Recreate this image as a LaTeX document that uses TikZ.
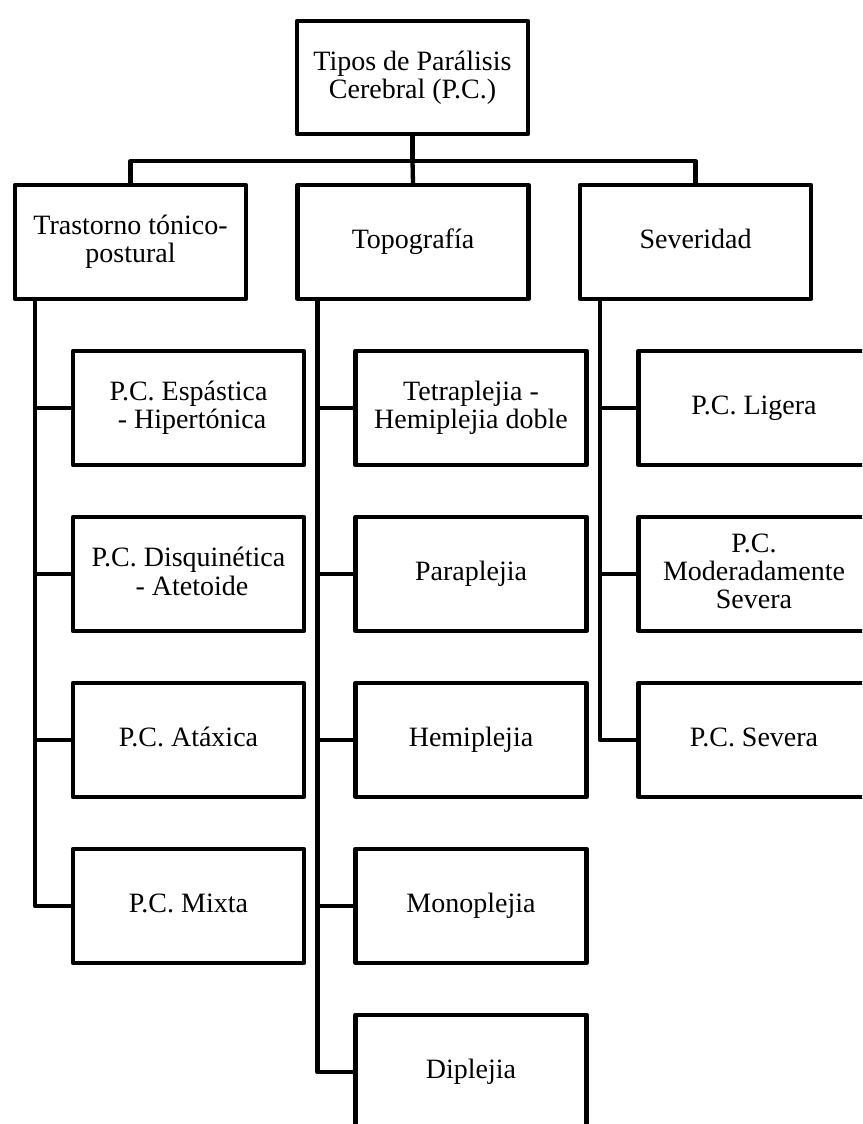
\documentclass[tikz,border=0pt]{standalone}
\usepackage{fontspec}
\setmainfont{Liberation Serif}
\newcommand{\boxstrut}{\rule[-0.2em]{0pt}{0.862em}}
\begin{document}
\begin{tikzpicture}[x=1pt, y=-1pt, box/.style={draw, line width=4.3pt, line join=round, minimum width=231pt, minimum height=114pt, align=center, inner sep=2pt, execute at begin node=\boxstrut, execute at end node=\boxstrut}, link/.style={line width=4.3pt, line join=round}, font=\fontsize{28}{28.4}\selectfont]
\useasboundingbox (0,0) rectangle (862,1124);
\clip (0,0) rectangle (862,1124);
%	\draw[help lines] (0,0) grid (862,1124);
\node[box, minimum height=113pt] (tipos) at (412.5, 77.5) {Tipos de Parálisis\\Cerebral (P.C.)};
\node[box] (tonico) at (130.5, 242) {Trastorno tónico-\\postural};
\node[box] (topografia) at (413, 242) {Topografía};
\node[box] (severidad) at (695.5, 242) {Severidad};
\node[box] (espastica) at (188.5, 408) {P.C. Espástica\\~- Hipertónica};
\node[box] (disquinetica) at (188.5, 574) {P.C. Disquinética\\~- Atetoide};
\node[box] (ataxica) at (188.5, 740) {P.C. Atáxica};
\node[box] (mixta) at (188.5, 906) {P.C. Mixta};
\node[box] (tetraplejia) at (471, 408) {Tetraplejia -\\Hemiplejia doble};
\node[box] (paraplejia) at (471, 574) {Paraplejia};
\node[box] (hemiplejia) at (471, 740) {Hemiplejia};
\node[box] (monoplejia) at (471, 906) {Monoplejia};
\node[box] (diplejia) at (471, 1072) {Diplejia};
\node[box] (ligera) at (754, 408) {P.C. Ligera};
\node[box] (moderada) at (754, 574) {P.C.\\Moderadamente\\Severa};
\node[box] (severa) at (754, 740) {P.C. Severa};
\coordinate (bus) at ([yshift=-25pt]tipos.south);
\draw[link] (tipos.south) -- (bus);
\draw[link] (tonico.north) |- (bus) -| (severidad.north);
\draw[link] (bus) -- (topografia.north);
\draw[link] ([xshift=22pt]tonico.south west) |- (espastica.west);
\draw[link] ([xshift=22pt]tonico.south west) |- (disquinetica.west);
\draw[link] ([xshift=22pt]tonico.south west) |- (ataxica.west);
\draw[link] ([xshift=22pt]tonico.south west) |- (mixta.west);
\draw[link] ([xshift=22pt]topografia.south west) |- (tetraplejia.west);
\draw[link] ([xshift=22pt]topografia.south west) |- (paraplejia.west);
\draw[link] ([xshift=22pt]topografia.south west) |- (hemiplejia.west);
\draw[link] ([xshift=22pt]topografia.south west) |- (monoplejia.west);
\draw[link] ([xshift=22pt]topografia.south west) |- (diplejia.west);
\draw[link] ([xshift=22pt]severidad.south west) |- (ligera.west);
\draw[link] ([xshift=22pt]severidad.south west) |- (moderada.west);
\draw[link] ([xshift=22pt]severidad.south west) |- (severa.west);
\end{tikzpicture}
\end{document}
